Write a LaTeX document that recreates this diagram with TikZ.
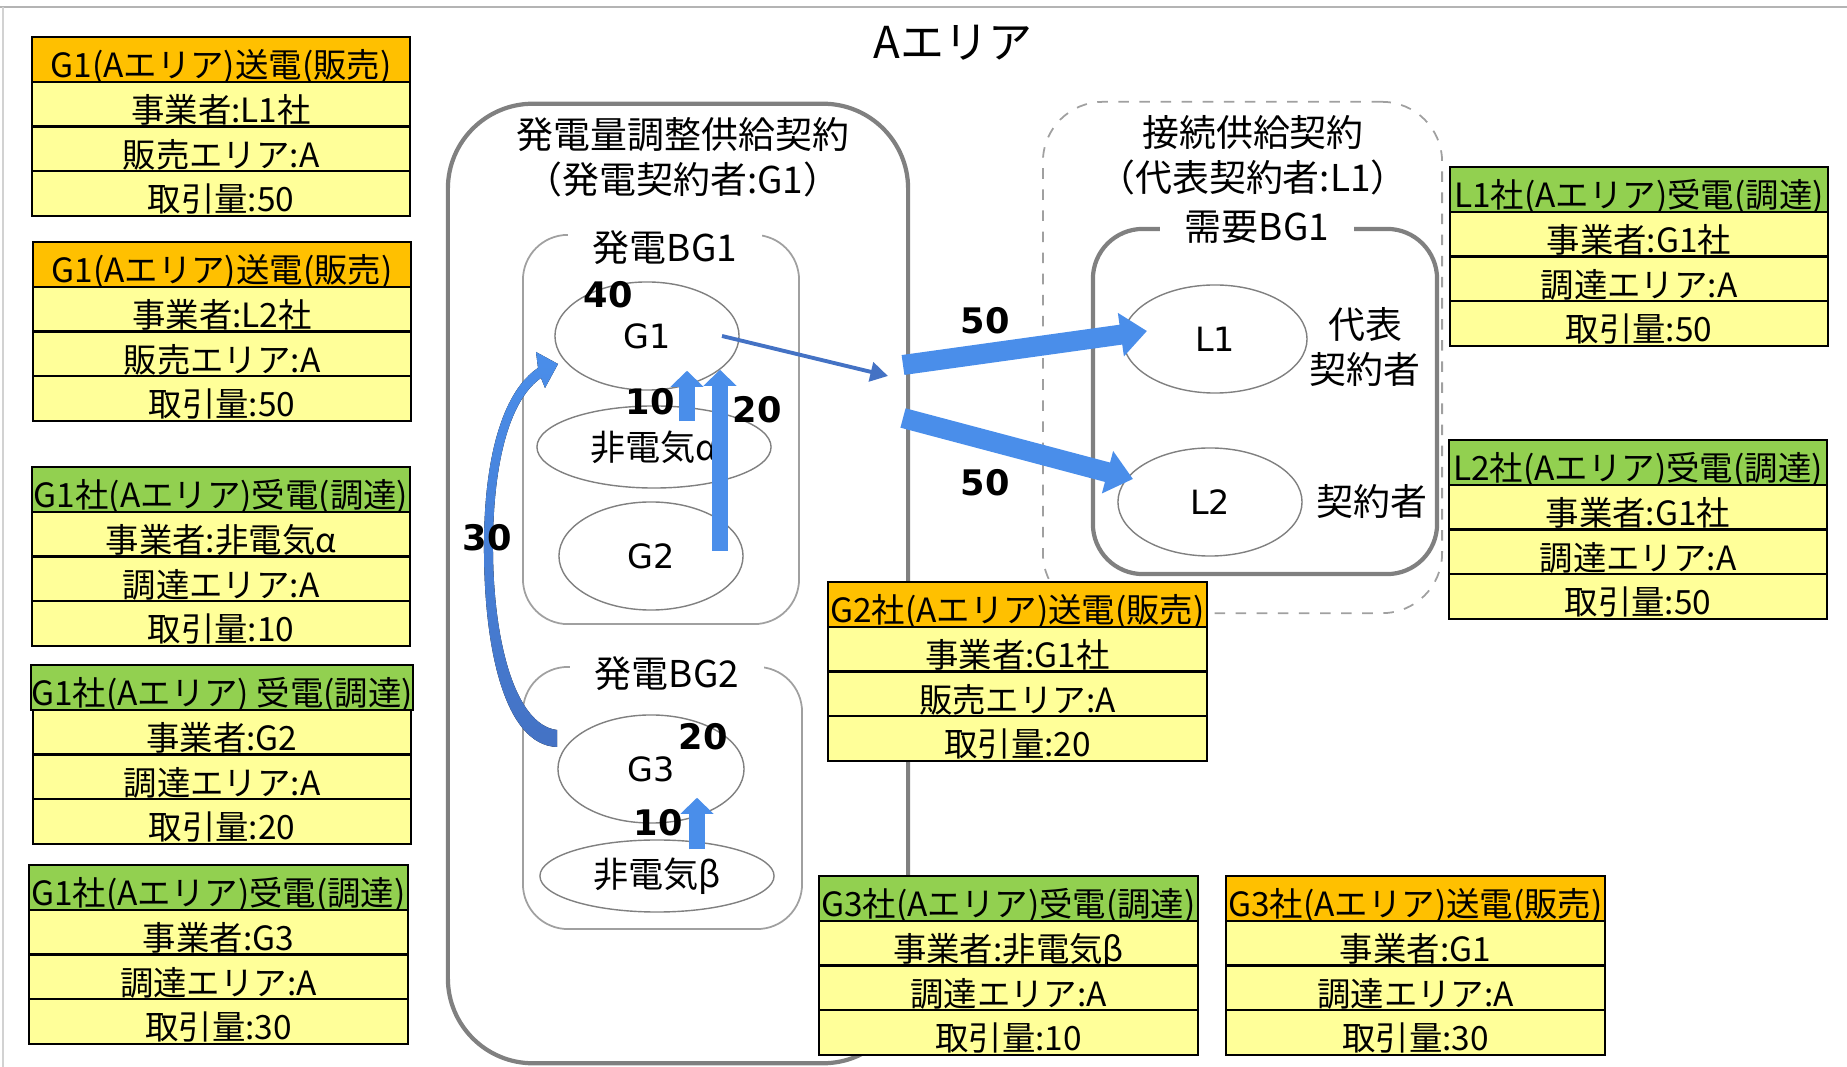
\documentclass[tikz,border=0pt]{standalone}
\usepackage{fontspec}
\setmainfont{Noto Sans CJK JP}
\newfontfamily\numfont{DejaVu Sans}
\usepackage{tikz}
\usetikzlibrary{shapes.geometric, arrows.meta, positioning, calc}

\definecolor{sendorange}{HTML}{FFC000}
\definecolor{recvgreen}{HTML}{92D050}
\definecolor{cellyellow}{HTML}{FFFF99}
\definecolor{flowblue}{HTML}{4A8EEA}
\definecolor{linkblue}{HTML}{4472C4}
\definecolor{framegray}{HTML}{808080}
\definecolor{thingray}{HTML}{A0A0A0}
\definecolor{edgegray}{HTML}{B4B4B4}

\begin{document}
\begin{tikzpicture}[
    x=0.01cm, y=-0.01cm,
    cell/.style={rectangle, draw, line width=0.6pt, fill=cellyellow, outer sep=0pt, inner sep=0pt,
        minimum width=3.78cm, minimum height=0.445cm, text height=10.5pt, text depth=0pt,
        font=\fontsize{9.5}{11}\selectfont},
    sendhdr/.style={cell, fill=sendorange, minimum height=0.45cm},
    recvhdr/.style={cell, fill=recvgreen, minimum height=0.45cm},
    contract/.style={rectangle, draw=framegray, line width=1.2pt, rounded corners=0.85cm, inner sep=0pt},
    bgbox/.style={rectangle, draw=thingray, line width=0.5pt, rounded corners=0.45cm, inner sep=0pt},
    boxlabel/.style={fill=white, inner xsep=0.25cm, inner ysep=1pt, font=\fontsize{10.5}{12.8}\selectfont},
    boxtitle/.style={align=center, inner sep=0pt, font=\fontsize{10.5}{12.8}\selectfont},
    plant/.style={ellipse, draw=framegray, line width=0.4pt, inner sep=0pt, font=\numfont\fontsize{9.5}{12}\selectfont},
    qty/.style={inner sep=0pt, font=\numfont\bfseries\fontsize{10}{12}\selectfont},
    flow/.style={draw=flowblue, line width=5.7pt, -{Triangle[length=7.5pt, width=12pt]}},
    supply/.style={draw=flowblue, line width=4.5pt, -{Triangle[length=4.6pt, width=9.2pt]}},
    link/.style={draw=linkblue, line width=1.1pt, -{Triangle[length=5pt, width=5.5pt]}},
]
\useasboundingbox (0,0) rectangle (1847,1067);

% page edges
\draw[edgegray, line width=0.6pt] (0,7) -- (1847,7);
\draw[edgegray!60, line width=0.5pt] (3,7) -- (3,1067);

\node[font=\fontsize{12.5}{15}\selectfont] (area) at (953,43) {Aエリア};

% contract boxes
\node[contract, minimum width=4.6cm, minimum height=9.59cm] (adj) at (678,583.5) {};
\node[boxtitle] (adjtitle) at ($(adj.north)+(5,56)$) {発電量調整供給契約\\（発電契約者:G1）};

\node[rectangle, draw=thingray, dashed, line width=0.5pt, rounded corners=0.6cm, minimum width=3.99cm, minimum height=5.11cm] (conn) at (1242.5,357.5) {};
\node[boxtitle] (conntitle) at ($(conn.north)+(10.5,54)$) {接続供給契約\\（代表契約者:L1）};

\node[contract, rounded corners=0.5cm, minimum width=3.44cm, minimum height=3.45cm] (dbg) at (1265,401.5) {};
\node[boxlabel] (dbglabel) at ($(dbg.north)+(-8,0)$) {需要BG1};

% generation BGs
\node[bgbox, minimum width=2.76cm, minimum height=3.89cm] (bg1) at (661,429.5) {};
\node[boxlabel] (bg1label) at ($(bg1.north)+(4,14)$) {発電BG1};
\node[bgbox, minimum width=2.79cm, minimum height=2.62cm] (bg2) at (662.5,798) {};
\node[boxlabel] (bg2label) at ($(bg2.north)+(4.5,8)$) {発電BG2};

% plants and loads
\node[plant, minimum width=1.84cm, minimum height=1.08cm] (g1) at (647,336) {G1};
\node[plant, font=\fontsize{10}{12}\selectfont, minimum width=2.34cm, minimum height=0.82cm] (alpha) at (654,447) {非電気α};
\node[plant, minimum width=1.84cm, minimum height=1.08cm] (g2) at (651,556) {G2};
\node[plant, minimum width=1.86cm, minimum height=1.08cm] (g3) at (651,769) {G3};
\node[plant, font=\fontsize{10}{12}\selectfont, minimum width=2.34cm, minimum height=0.72cm] (beta) at (657,876) {非電気β};
\node[plant, minimum width=1.84cm, minimum height=1.08cm] (l1) at (1215,339) {L1};
\node[plant, minimum width=1.84cm, minimum height=1.08cm] (l2) at (1210,502) {L2};
\node[boxtitle] (l1role) at (1365,347) {代表\\契約者};
\node[boxtitle] (l2role) at (1372,501) {契約者};

% flows
\draw[supply] ($(alpha.north)+(33,16)$) -- ($(g1.south)+(40,-20)$);
\draw[supply] ($(g2.center)+(69,-5)$) -- ($(g1.south)+(73,-21)$);
\draw[supply] ($(beta.north)+(40,10)$) -- ($(g3.south)+(46,-26)$);

\fill[top color=flowblue, bottom color=linkblue] (557,747) .. controls (505,745) and (483,650) .. (484,540)
    .. controls (485,450) and (505,390) .. (538,368) -- (536,352) -- (558,364) -- (545,388) -- (541,378)
    .. controls (512,398) and (494,455) .. (493,540) .. controls (492,640) and (515,725) .. (557,730) -- cycle;

\coordinate (hub) at (888,376);
\coordinate (tap1) at (903,365);
\coordinate (tap2) at (903,418);
\draw[link] ($(g1.center)+(75,0)$) -- (hub);
\draw[flow] (tap1) -- ($(l1.center)+(-68,-8)$);
\draw[flow] (tap2) -- ($(l2.center)+(-77,-23)$);

% quantities
\node[qty] (q40) at (608,295) {40};
\node[qty] (q10a) at (650,402) {10};
\node[qty] (q20a) at (757,410) {20};
\node[qty] (q30) at (487,538) {30};
\node[qty] (q20b) at (703,737) {20};
\node[qty] (q10b) at (658,823) {10};
\node[qty] (q50a) at (985,321) {50};
\node[qty] (q50b) at (985,483) {50};

% left tables
\node[sendhdr] (t1h) at (221,59.5) {G1(Aエリア)送電(販売)};
\node[cell, below=0pt of t1h] (t1a) {事業者:L1社};
\node[cell, below=0pt of t1a] (t1b) {販売エリア:A};
\node[cell, below=0pt of t1b] (t1c) {取引量:50};

\node[sendhdr] (t2h) at (222,264.5) {G1(Aエリア)送電(販売)};
\node[cell, below=0pt of t2h] (t2a) {事業者:L2社};
\node[cell, below=0pt of t2a] (t2b) {販売エリア:A};
\node[cell, below=0pt of t2b] (t2c) {取引量:50};

\node[recvhdr] (t3h) at (221,489.5) {G1社(Aエリア)受電(調達)};
\node[cell, below=0pt of t3h] (t3a) {事業者:非電気α};
\node[cell, below=0pt of t3a] (t3b) {調達エリア:A};
\node[cell, below=0pt of t3b] (t3c) {取引量:10};

\node[recvhdr] (t4h) at (222,687.5) {G1社(Aエリア) 受電(調達)};
\node[cell, below=0pt of t4h] (t4a) {事業者:G2};
\node[cell, below=0pt of t4a] (t4b) {調達エリア:A};
\node[cell, below=0pt of t4b] (t4c) {取引量:20};

\node[recvhdr] (t5h) at (218.5,887.5) {G1社(Aエリア)受電(調達)};
\node[cell, below=0pt of t5h] (t5a) {事業者:G3};
\node[cell, below=0pt of t5a] (t5b) {調達エリア:A};
\node[cell, below=0pt of t5b] (t5c) {取引量:30};

% right tables
\node[recvhdr] (r1h) at (1639,189.5) {L1社(Aエリア)受電(調達)};
\node[cell, below=0pt of r1h] (r1a) {事業者:G1社};
\node[cell, below=0pt of r1a] (r1b) {調達エリア:A};
\node[cell, below=0pt of r1b] (r1c) {取引量:50};

\node[recvhdr] (r2h) at (1638,462.5) {L2社(Aエリア)受電(調達)};
\node[cell, below=0pt of r2h] (r2a) {事業者:G1社};
\node[cell, below=0pt of r2a] (r2b) {調達エリア:A};
\node[cell, below=0pt of r2b] (r2c) {取引量:50};

% middle tables
\node[sendhdr] (m1h) at (1017.5,604.5) {G2社(Aエリア)送電(販売)};
\node[cell, below=0pt of m1h] (m1a) {事業者:G1社};
\node[cell, below=0pt of m1a] (m1b) {販売エリア:A};
\node[cell, below=0pt of m1b] (m1c) {取引量:20};

\node[recvhdr] (m2h) at (1008.5,898.5) {G3社(Aエリア)受電(調達)};
\node[cell, below=0pt of m2h] (m2a) {事業者:非電気β};
\node[cell, below=0pt of m2a] (m2b) {調達エリア:A};
\node[cell, below=0pt of m2b] (m2c) {取引量:10};

\node[sendhdr] (m3h) at (1415.5,898.5) {G3社(Aエリア)送電(販売)};
\node[cell, below=0pt of m3h] (m3a) {事業者:G1};
\node[cell, below=0pt of m3a] (m3b) {調達エリア:A};
\node[cell, below=0pt of m3b] (m3c) {取引量:30};

\end{tikzpicture}
\end{document}
